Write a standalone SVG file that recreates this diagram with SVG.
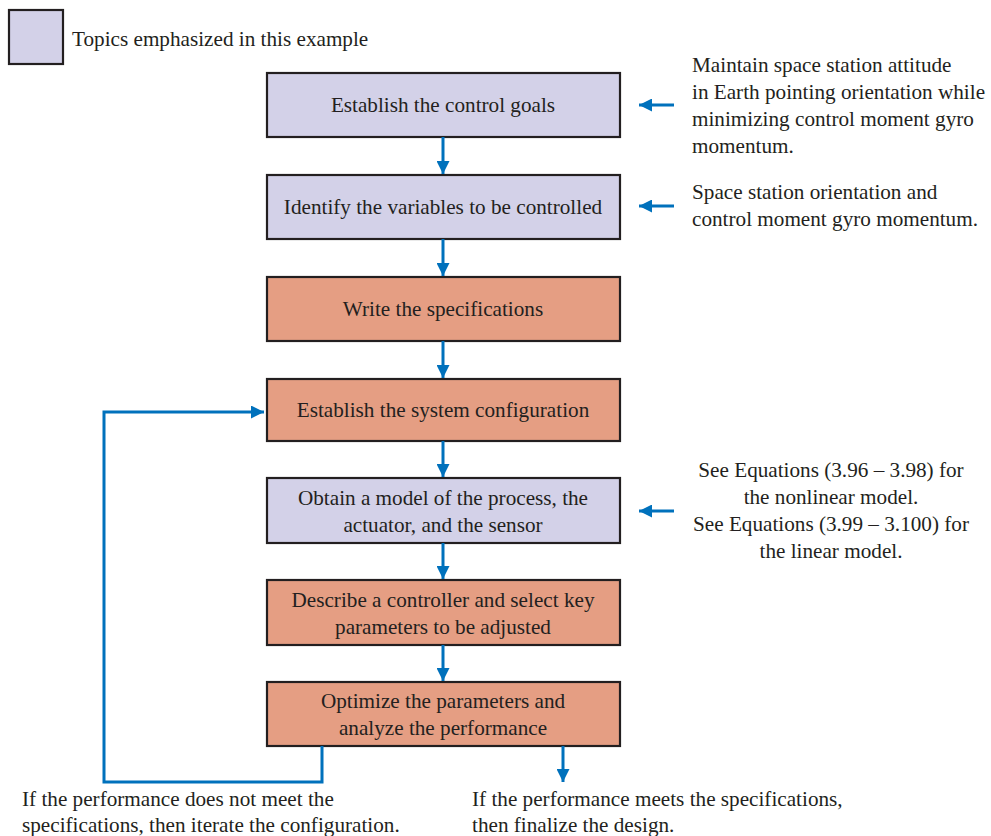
<svg xmlns="http://www.w3.org/2000/svg" width="991" height="836" viewBox="0 0 991 836">
<style>
text{font-family:"Liberation Serif","Times New Roman",serif;font-size:21.2px;fill:#231f20}
.c{text-anchor:middle}
.lav{fill:#d3d1e8;stroke:#231f20;stroke-width:2.2}
.sal{fill:#e59e83;stroke:#231f20;stroke-width:2.2}
.ln{fill:none;stroke:#0071bc;stroke-width:3}
</style>
<defs>
<marker id="ah" viewBox="0 0 12 12" refX="12" refY="6" markerWidth="13" markerHeight="13" markerUnits="userSpaceOnUse" orient="auto">
<path d="M0,0 L12,6 L0,12 z" fill="#0071bc"/>
</marker>
</defs>
<rect width="991" height="836" fill="#fff"/>
<g id="legend">
<rect class="lav" x="9" y="10" width="54" height="54"/>
<text x="72" y="46">Topics emphasized in this example</text>
</g>
<g id="n1">
<rect class="lav" x="267" y="73" width="353" height="64"/>
<text class="c" x="443" y="112">Establish the control goals</text>
</g>
<g id="n2">
<rect class="lav" x="267" y="175" width="353" height="64"/>
<text class="c" x="443" y="214">Identify the variables to be controlled</text>
</g>
<g id="n3">
<rect class="sal" x="267" y="277" width="353" height="64"/>
<text class="c" x="443" y="316">Write the specifications</text>
</g>
<g id="n4">
<rect class="sal" x="267" y="379" width="353" height="62"/>
<text class="c" x="443" y="417">Establish the system configuration</text>
</g>
<g id="n5">
<rect class="lav" x="267" y="478" width="353" height="65"/>
<text class="c" x="443" y="505">Obtain a model of the process, the</text>
<text class="c" x="443" y="532">actuator, and the sensor</text>
</g>
<g id="n6">
<rect class="sal" x="267" y="580" width="353" height="65"/>
<text class="c" x="443" y="607">Describe a controller and select key</text>
<text class="c" x="443" y="634">parameters to be adjusted</text>
</g>
<g id="n7">
<rect class="sal" x="267" y="682" width="353" height="64"/>
<text class="c" x="443" y="708">Optimize the parameters and</text>
<text class="c" x="443" y="735">analyze the performance</text>
</g>
<g id="note1">
<text x="692" y="72">Maintain space station attitude</text>
<text x="692" y="99">in Earth pointing orientation while</text>
<text x="692" y="126">minimizing control moment gyro</text>
<text x="692" y="153">momentum.</text>
</g>
<g id="note2">
<text x="692" y="199">Space station orientation and</text>
<text x="692" y="226">control moment gyro momentum.</text>
</g>
<g id="note3">
<text class="c" x="831" y="477">See Equations (3.96 – 3.98) for</text>
<text class="c" x="831" y="504">the nonlinear model.</text>
<text class="c" x="831" y="531">See Equations (3.99 – 3.100) for</text>
<text class="c" x="831" y="558">the linear model.</text>
</g>
<g id="out1">
<text x="22" y="806">If the performance does not meet the</text>
<text x="22" y="832">specifications, then iterate the configuration.</text>
</g>
<g id="out2">
<text x="472" y="806">If the performance meets the specifications,</text>
<text x="472" y="832">then finalize the design.</text>
</g>
<g id="connectors">
<path class="ln" d="M443,137 V174" marker-end="url(#ah)"/>
<path class="ln" d="M443,239 V276" marker-end="url(#ah)"/>
<path class="ln" d="M443,341 V378" marker-end="url(#ah)"/>
<path class="ln" d="M443,441 V477" marker-end="url(#ah)"/>
<path class="ln" d="M443,543 V579" marker-end="url(#ah)"/>
<path class="ln" d="M443,645 V681" marker-end="url(#ah)"/>
<path class="ln" d="M674,105 H639" marker-end="url(#ah)"/>
<path class="ln" d="M674,206 H639" marker-end="url(#ah)"/>
<path class="ln" d="M674,511 H639" marker-end="url(#ah)"/>
<path class="ln" d="M322,746 V782 H104 V412 H264" marker-end="url(#ah)"/>
<path class="ln" d="M563,746 V782" marker-end="url(#ah)"/>
</g>
</svg>
